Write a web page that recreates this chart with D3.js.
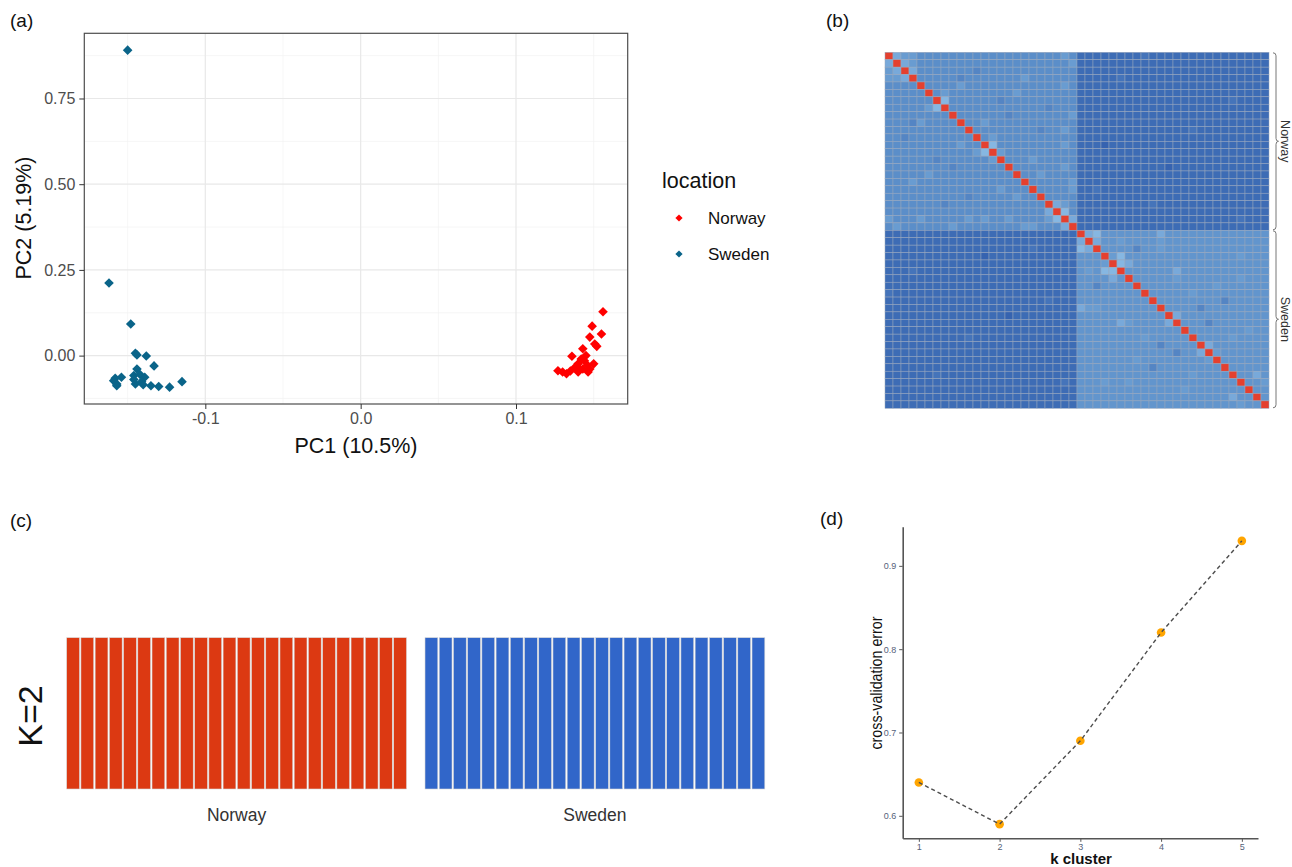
<!DOCTYPE html>
<html>
<head>
<meta charset="utf-8">
<script src="https://cdn.jsdelivr.net/npm/d3@7"></script>
<style>
  html, body { margin: 0; padding: 0; background: #fff; }
  svg { display: block; font-family: Arial, "Liberation Sans", sans-serif; }
</style>
</head>
<body>
<svg id="main" width="1292" height="867"></svg>
<script>
  // ---------- data ----------
  // (a) PCA, [PC1, PC2]
  const norwayPCA = [
    [0.156, 0.128], [0.149, 0.086], [0.155, 0.063], [0.1475, 0.054], [0.152, 0.027],
    [0.143, 0.020], [0.136, -0.002], [0.145, 0.000], [0.144, -0.015], [0.150, -0.024],
    [0.140, -0.024], [0.138, -0.034], [0.1475, -0.039], [0.127, -0.044], [0.1325, -0.053],
    [0.140, -0.048], [0.1464, -0.048], [0.143, -0.039], [0.142, -0.010], [0.1507, 0.034],
    [0.130, -0.048], [0.135, -0.045], [0.146, -0.028], [0.141, -0.040]
  ];
  const swedenPCA = [
    [-0.150, 0.891], [-0.162, 0.212], [-0.148, 0.092], [-0.145, 0.007], [-0.144, 0.002],
    [-0.138, -0.001], [-0.133, -0.030], [-0.144, -0.039], [-0.146, -0.058], [-0.142, -0.055],
    [-0.139, -0.063], [-0.158, -0.066], [-0.154, -0.063], [-0.157, -0.083], [-0.145, -0.083],
    [-0.141, -0.076], [-0.135, -0.088], [-0.130, -0.090], [-0.123, -0.092], [-0.115, -0.076],
    [-0.159, -0.073], [-0.157, -0.088], [-0.146, -0.070], [-0.140, -0.085]
  ];
  const pcaMajorX = [-0.1, 0.0, 0.1];
  const pcaMinorX = [-0.15, -0.05, 0.05, 0.15];
  const pcaMajorY = [0.0, 0.25, 0.5, 0.75];
  const pcaMinorY = [-0.125, 0.125, 0.375, 0.625, 0.875];
  const locations = ["Norway", "Sweden"];

  // (b) kinship heatmap: shade level per block, plus cells that differ [i, j, level]
  const groupSize = 24;
  const norwayBase = 5, swedenBase = 5.5, betweenBase = 1;
  const norwayCells = [
    [0,1,7],[0,2,6],[0,3,6],[1,2,7],[1,3,6],[2,3,7],[6,7,8],[5,7,6],[11,13,6],[12,13,8],
    [13,14,6],[20,21,7],[21,22,8],[20,22,6],[4,9,6],[8,15,4],[3,17,6],[10,19,4],[5,16,6],
    [14,18,6],[2,11,4],[7,20,4],[9,12,6],[16,19,6],[15,22,6],[17,23,6],[0,22,6],[1,23,6],
    [10,22,6],[18,23,6],[6,14,4],[3,9,4],[22,23,7],[4,22,6],[8,23,6],[12,22,6]
  ];
  const swedenCells = [
    [0,2,8],[0,1,7],[1,2,7],[3,5,8],[4,5,8],[3,4,6],[0,10,7],[5,12,7],[11,12,7],[1,10,6],
    [2,10,6],[6,20,6],[6,12,6],[15,16,7],[16,17,6],[8,14,6],[9,18,4],[13,21,6],[19,22,7],
    [20,23,6],[2,7,4],[7,17,6],[10,15,4],[14,19,6],[3,20,6],[12,16,4],[1,5,6],[4,6,7]
  ];
  const betweenCells = [
    [3,5,2],[10,14,2],[18,2,2],[22,20,2],[0,8,2],[15,11,0],[6,19,2],[12,3,0],[20,9,2]
  ];

  // (c) admixture K=2, proportion of cluster 1 per individual
  const norwayQ = [1,1,1,1,1,1,1,1,1,1,1,1,1,1,1,1,1,1,1,1,1,1,1,1];
  const swedenQ = [0,0,0,0,0,0,0,0,0,0,0,0,0,0,0,0,0,0,0,0,0,0,0,0];

  // (d) cross-validation
  const kValues = [1, 2, 3, 4, 5];
  const cvError = [0.64, 0.59, 0.69, 0.82, 0.93];
  const cvTicksY = [0.6, 0.7, 0.8, 0.9];

  const svg = d3.select("#main");

  function panelLabel(txt, x, y) {
    svg.append("text").attr("x", x).attr("y", y).attr("font-size", 19).attr("fill", "#111").text(txt);
  }
  panelLabel("(a)", 10, 27);
  panelLabel("(b)", 826, 27);
  panelLabel("(c)", 10, 527);
  panelLabel("(d)", 820, 525);

  // ---------- (a) PCA ----------
  {
    const all = norwayPCA.concat(swedenPCA);
    const ex = d3.extent(all, d => d[0]), ey = d3.extent(all, d => d[1]);
    const px = (ex[1] - ex[0]) * 0.05, py = (ey[1] - ey[0]) * 0.05;
    const x = d3.scaleLinear().domain([ex[0] - px, ex[1] + px]).range([84.3, 627.7]);
    const y = d3.scaleLinear().domain([ey[0] - py, ey[1] + py]).range([404, 33.3]);
    const color = d3.scaleOrdinal().domain(locations).range(["#ff0000", "#0a6489"]);
    const g = svg.append("g");

    g.selectAll(".minx").data(pcaMinorX).enter().append("line")
      .attr("x1", d => x(d)).attr("x2", d => x(d)).attr("y1", 33.3).attr("y2", 404)
      .attr("stroke", "#f2f2f2").attr("stroke-width", 0.7);
    g.selectAll(".miny").data(pcaMinorY).enter().append("line")
      .attr("y1", d => y(d)).attr("y2", d => y(d)).attr("x1", 84.3).attr("x2", 627.7)
      .attr("stroke", "#f2f2f2").attr("stroke-width", 0.7);
    g.selectAll(".majx").data(pcaMajorX).enter().append("line")
      .attr("x1", d => x(d)).attr("x2", d => x(d)).attr("y1", 33.3).attr("y2", 404)
      .attr("stroke", "#e8e8e8").attr("stroke-width", 1.2);
    g.selectAll(".majy").data(pcaMajorY).enter().append("line")
      .attr("y1", d => y(d)).attr("y2", d => y(d)).attr("x1", 84.3).attr("x2", 627.7)
      .attr("stroke", "#e8e8e8").attr("stroke-width", 1.2);

    const diamond = r => `M0,${-r}L${r},0L0,${r}L${-r},0Z`;
    const pts = [].concat(
      norwayPCA.map(d => ({ v: d, loc: "Norway" })),
      swedenPCA.map(d => ({ v: d, loc: "Sweden" })));
    g.selectAll(".pt").data(pts).enter().append("path")
      .attr("d", diamond(4.8))
      .attr("transform", d => `translate(${x(d.v[0])},${y(d.v[1])})`)
      .attr("fill", d => color(d.loc));

    g.append("rect").attr("x", 84.3).attr("y", 33.3).attr("width", 627.7 - 84.3).attr("height", 404 - 33.3)
      .attr("fill", "none").attr("stroke", "#4d4d4d").attr("stroke-width", 1.2);

    const ax = g.append("g").attr("transform", "translate(0,404)")
      .call(d3.axisBottom(x).tickValues(pcaMajorX).tickFormat(d => d.toFixed(1)).tickSize(5).tickPadding(4));
    const ay = g.append("g").attr("transform", "translate(84.3,0)")
      .call(d3.axisLeft(y).tickValues(pcaMajorY).tickFormat(d => d.toFixed(2)).tickSize(5).tickPadding(4));
    [ax, ay].forEach(a => {
      a.select(".domain").remove();
      a.selectAll("line").attr("stroke", "#333");
      a.selectAll("text").attr("font-size", 16).attr("fill", "#4d4d4d").attr("font-family", "Arial, 'Liberation Sans', sans-serif");
    });

    g.append("text").attr("x", 356).attr("y", 453).attr("text-anchor", "middle")
      .attr("font-size", 21.5).attr("fill", "#111").text("PC1 (10.5%)");
    g.append("text").attr("transform", "translate(31,218) rotate(-90)").attr("text-anchor", "middle")
      .attr("font-size", 21.5).attr("fill", "#111").text("PC2 (5.19%)");

    // legend
    g.append("text").attr("x", 662).attr("y", 188).attr("font-size", 21.5).attr("fill", "#111").text("location");
    const lg = g.selectAll(".lg").data(locations).enter().append("g")
      .attr("transform", (d, i) => `translate(679,${218 + i * 36})`);
    lg.append("path").attr("d", diamond(3.6)).attr("fill", d => color(d));
    lg.append("text").attr("x", 29).attr("y", 6).attr("font-size", 17).attr("fill", "#111").text(d => d);
  }

  // ---------- (b) heatmap ----------
  {
    const n = groupSize * 2;
    const idx = d3.range(n);
    const x = d3.scaleBand().domain(idx).range([885, 1269]);
    const y = d3.scaleBand().domain(idx).range([52.3, 408.3]);
    const shade = d3.scaleLinear().domain([0, 5, 8]).range(["#3663b0", "#5b8ec9", "#86b7e2"]);

    const lookup = new Map();
    const key = (i, j) => i < j ? i + "," + j : j + "," + i;
    norwayCells.forEach(([i, j, v]) => lookup.set(key(i, j), v));
    swedenCells.forEach(([i, j, v]) => lookup.set(key(i + groupSize, j + groupSize), v));
    betweenCells.forEach(([i, j, v]) => lookup.set(key(i, j + groupSize), v));

    const cells = [];
    for (const i of idx) for (const j of idx) {
      let v;
      if (i === j) v = null;
      else if (lookup.has(key(i, j))) v = lookup.get(key(i, j));
      else if (i < groupSize && j < groupSize) v = norwayBase;
      else if (i >= groupSize && j >= groupSize) v = swedenBase;
      else v = betweenBase;
      cells.push({ i, j, v });
    }
    svg.append("g").selectAll("rect").data(cells).enter().append("rect")
      .attr("x", d => x(d.j)).attr("y", d => y(d.i))
      .attr("width", x.bandwidth()).attr("height", y.bandwidth())
      .attr("fill", d => d.v === null ? "#e4402f" : shade(d.v))
      .attr("stroke", "#98a6bc").attr("stroke-width", 0.5);

    // group braces
    const bx = 1276;
    locations.forEach((loc, k) => {
      const y0 = y(k * groupSize) + 0.5, y1 = y(k * groupSize + groupSize - 1) + y.bandwidth() - 0.5;
      const ym = (y0 + y1) / 2;
      svg.append("path")
        .attr("d", `M${bx - 3},${y0} Q${bx},${y0} ${bx},${y0 + 3} L${bx},${ym - 3} Q${bx},${ym} ${bx + 2.5},${ym} Q${bx},${ym} ${bx},${ym + 3} L${bx},${y1 - 3} Q${bx},${y1} ${bx - 3},${y1}`)
        .attr("fill", "none").attr("stroke", "#777").attr("stroke-width", 1);
      svg.append("text").attr("transform", `translate(1280.5,${ym}) rotate(90)`)
        .attr("text-anchor", "middle").attr("font-size", 12.5).attr("fill", "#333").text(loc);
    });
  }

  // ---------- (c) admixture ----------
  {
    const y = d3.scaleLinear().domain([0, 1]).range([789, 637.7]);
    const groups = [
      { name: "Norway", q: norwayQ, range: [66.7, 406.5] },
      { name: "Sweden", q: swedenQ, range: [425, 764.8] }
    ];
    const clusterColor = ["#dc3912", "#3166c9"];
    groups.forEach(gp => {
      const x = d3.scaleBand().domain(d3.range(gp.q.length)).range(gp.range).paddingInner(0.1);
      const stackData = gp.q.map((q, i) => ({ i, c0: q, c1: 1 - q }));
      const series = d3.stack().keys(["c0", "c1"])(stackData);
      const g = svg.append("g");
      series.forEach((s, k) => {
        g.selectAll(null).data(s.filter(d => d[1] - d[0] > 0)).enter().append("rect")
          .attr("x", d => x(d.data.i)).attr("width", x.bandwidth())
          .attr("y", d => y(d[1])).attr("height", d => y(d[0]) - y(d[1]))
          .attr("fill", clusterColor[k]).attr("stroke", "#d6d6d6").attr("stroke-width", 0.6);
      });
      g.append("text").attr("x", (gp.range[0] + gp.range[1]) / 2).attr("y", 821)
        .attr("text-anchor", "middle").attr("font-size", 17.5).attr("fill", "#333").text(gp.name);
    });
    svg.append("text").attr("transform", "translate(42,716) rotate(-90)").attr("text-anchor", "middle")
      .attr("font-size", 34).attr("fill", "#111").text("K=2");
  }

  // ---------- (d) CV error ----------
  {
    const ex = d3.extent(kValues), ey = d3.extent(cvError);
    const px = (ex[1] - ex[0]) * 0.05, py = (ey[1] - ey[0]) * 0.05;
    const x = d3.scaleLinear().domain([ex[0] - px, ex[1] + px]).range([902.7, 1258]);
    const y = d3.scaleLinear().domain([ey[0] - py, ey[1] + py]).range([838.3, 526.7]);
    const g = svg.append("g");
    const data = kValues.map((k, i) => ({ k, e: cvError[i] }));

    const ax = g.append("g").attr("transform", "translate(0,838.3)")
      .call(d3.axisBottom(x).tickValues(kValues).tickFormat(d3.format("d")).tickSize(3.5).tickSizeOuter(0).tickPadding(2));
    const ay = g.append("g").attr("transform", "translate(902.7,0)")
      .call(d3.axisLeft(y).tickValues(cvTicksY).tickFormat(d3.format(".1f")).tickSize(3.5).tickSizeOuter(0).tickPadding(3));
    [ax, ay].forEach(a => {
      a.select(".domain").attr("stroke", "#555").attr("stroke-width", 1.6);
      a.selectAll("line").attr("stroke", "#555");
      a.selectAll("text").attr("font-size", 9).attr("fill", "#56627a").attr("font-family", "Arial, 'Liberation Sans', sans-serif");
    });

    g.selectAll("circle").data(data).enter().append("circle")
      .attr("cx", d => x(d.k)).attr("cy", d => y(d.e)).attr("r", 4.3).attr("fill", "#ffa500");
    g.append("path").datum(data)
      .attr("d", d3.line().x(d => x(d.k)).y(d => y(d.e)))
      .attr("fill", "none").attr("stroke", "#4d4d4d").attr("stroke-width", 1.4).attr("stroke-dasharray", "4,3");

    g.append("text").attr("transform", "translate(882,683) rotate(-90)").attr("text-anchor", "middle")
      .attr("font-family", "'Liberation Sans Narrow', 'Arial Narrow', Arial, sans-serif")
      .attr("font-size", 17).attr("textLength", 133).attr("lengthAdjust", "spacingAndGlyphs")
      .attr("fill", "#111").text("cross-validation error");
    g.append("text").attr("x", 1081).attr("y", 864).attr("text-anchor", "middle")
      .attr("font-size", 15).attr("font-weight", "bold").attr("fill", "#111").text("k cluster");
  }
</script>
</body>
</html>
